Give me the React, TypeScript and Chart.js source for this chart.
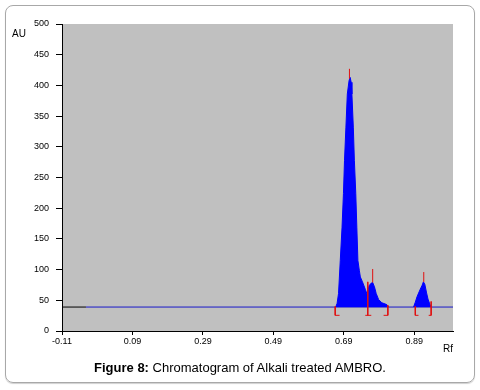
import React, { useEffect, useRef } from "react";
import { Chart, registerables } from "chart.js";

Chart.register(...registerables);

// ---- data ----
const xTicks = [-0.11, 0.09, 0.29, 0.49, 0.69, 0.89];
const xMin = -0.11;
const xMax = 1.0;
const yMin = 0;
const yMax = 500;
const yStep = 50;
const baselineAU = 39;
const traceStartRf = -0.042;

// main peak + shoulder peak
const peakARf = [0.667, 0.671, 0.675, 0.68, 0.685, 0.689, 0.692, 0.696, 0.7, 0.705, 0.708, 0.711, 0.713, 0.717, 0.72, 0.724, 0.727, 0.73, 0.734, 0.737, 0.743, 0.751, 0.756, 0.762, 0.768, 0.772, 0.777, 0.782, 0.789, 0.798, 0.812, 0.817];
const peakAAU = [39, 45, 61, 115, 169, 224, 278, 332, 386, 408, 413, 405, 386, 332, 278, 224, 169, 115, 99, 88, 80, 68, 60, 74, 78, 79, 72, 61, 51, 46, 43, 39];

// third peak
const peakBRf = [0.888, 0.893, 0.898, 0.907, 0.912, 0.916, 0.92, 0.925, 0.929, 0.934, 0.938];
const peakBAU = [39, 47, 56, 68, 74, 80, 76, 62, 52, 44, 39];

// red peak-apex markers
const apexRf = [0.706, 0.772, 0.917];
const apexLow = [411, 79, 80];
const apexHigh = [427, 101, 96];

// red integration brackets
const bracketRf = [0.6656, 0.758, 0.815, 0.893, 0.938];
const bracketTop = [40, 80, 42, 40, 48];
const bracketFootFrom = [0.6656, 0.751, 0.803, 0.893, 0.931];
const bracketFootTo = [0.678, 0.768, 0.815, 0.902, 0.938];
const bracketBottom = 25.5;

const FONT = "'Liberation Sans', Arial, sans-serif";

function buildMarkers() {
  const pts: { x: number; y: number | null }[] = [];
  apexRf.forEach((x, i) => {
    pts.push({ x, y: apexLow[i] }, { x, y: apexHigh[i] }, { x, y: null });
  });
  bracketRf.forEach((x, i) => {
    pts.push({ x, y: bracketTop[i] }, { x, y: bracketBottom }, { x, y: null });
    pts.push(
      { x: bracketFootFrom[i], y: bracketBottom },
      { x: bracketFootTo[i], y: bracketBottom },
      { x: bracketFootTo[i], y: null }
    );
  });
  return pts;
}

const bgPlugin = {
  id: "plotBg",
  beforeDraw(chart: any) {
    const { ctx, chartArea } = chart;
    ctx.save();
    ctx.fillStyle = "#c0c0c0";
    ctx.fillRect(chartArea.left, chartArea.top, chartArea.width, chartArea.height);
    ctx.restore();
  },
};

export default function App() {
  const ref = useRef<HTMLCanvasElement | null>(null);

  useEffect(() => {
    if (!ref.current) return;
    const tickFont = { family: FONT, size: 9 };
    const chart = new Chart(ref.current, {
      type: "line",
      data: {
        datasets: [
          {
            data: buildMarkers(),
            borderColor: "#e01010",
            borderWidth: 1,
            pointRadius: 0,
            fill: false,
            spanGaps: false,
          },
          {
            data: peakARf.map((x, i) => ({ x, y: peakAAU[i] })),
            borderColor: "#0000ff",
            backgroundColor: "#0000ff",
            borderWidth: 1,
            pointRadius: 0,
            fill: { value: baselineAU },
          },
          {
            data: peakBRf.map((x, i) => ({ x, y: peakBAU[i] })),
            borderColor: "#0000ff",
            backgroundColor: "#0000ff",
            borderWidth: 1,
            pointRadius: 0,
            fill: { value: baselineAU },
          },
          {
            data: [
              { x: traceStartRf, y: baselineAU },
              { x: xMax, y: baselineAU },
            ],
            borderColor: "#1818c8",
            borderWidth: 1,
            pointRadius: 0,
            fill: false,
          },
          {
            data: [
              { x: xMin, y: baselineAU },
              { x: traceStartRf, y: baselineAU },
            ],
            borderColor: "#000000",
            borderWidth: 1,
            pointRadius: 0,
            fill: false,
          },
        ] as any,
      },
      options: {
        animation: false,
        responsive: false,
        devicePixelRatio: 1,
        layout: { padding: { top: 24, right: 27, left: 0, bottom: 0 } },
        elements: { line: { tension: 0 } },
        plugins: {
          legend: { display: false },
          tooltip: { enabled: false },
        },
        scales: {
          x: {
            type: "linear",
            min: xMin,
            max: xMax,
            afterBuildTicks: (s: any) => {
              s.ticks = xTicks.map((v) => ({ value: v }));
            },
            afterFit: (s: any) => {
              s.height = 29;
            },
            ticks: {
              autoSkip: false,
              maxRotation: 0,
              color: "#000",
              font: tickFont,
              padding: 1,
              callback: (v: any) => Number(v).toFixed(2),
            },
            grid: {
              display: true,
              drawOnChartArea: false,
              drawTicks: true,
              tickLength: 4,
              color: "#000",
            },
            border: { color: "#000", width: 1 },
          },
          y: {
            type: "linear",
            min: yMin,
            max: yMax,
            afterFit: (s: any) => {
              s.width = 62;
            },
            ticks: {
              stepSize: yStep,
              color: "#000",
              font: tickFont,
              padding: 7,
            },
            grid: {
              display: true,
              drawOnChartArea: false,
              drawTicks: true,
              tickLength: 6,
              color: "#000",
            },
            border: { color: "#000", width: 1 },
          },
        },
      },
      plugins: [bgPlugin],
    } as any);
    return () => chart.destroy();
  }, []);

  return (
    <div
      style={{
        position: "fixed",
        left: 0,
        top: 0,
        width: 480,
        height: 390,
        background: "#fff",
        fontFamily: FONT,
      }}
    >
      <div
        style={{
          position: "absolute",
          left: 5,
          top: 5,
          width: 468,
          height: 376,
          border: "1px solid #a8a8a8",
          borderRadius: 8,
          boxShadow: "0 1px 1px #d0d0d0",
        }}
      />
      <canvas
        ref={ref}
        width={480}
        height={360}
        style={{ position: "absolute", left: 0, top: 0, width: 480, height: 360 }}
      />
      <div style={{ position: "absolute", left: 12, top: 28, fontSize: 10, color: "#000" }}>AU</div>
      <div style={{ position: "absolute", left: 443, top: 343, fontSize: 10, color: "#000" }}>Rf</div>
      <div
        style={{
          position: "absolute",
          left: 0,
          top: 360,
          width: 480,
          textAlign: "center",
          fontSize: 13,
          color: "#000",
          whiteSpace: "nowrap",
        }}
      >
        <b>Figure 8:</b> Chromatogram of Alkali treated AMBRO.
      </div>
    </div>
  );
}
